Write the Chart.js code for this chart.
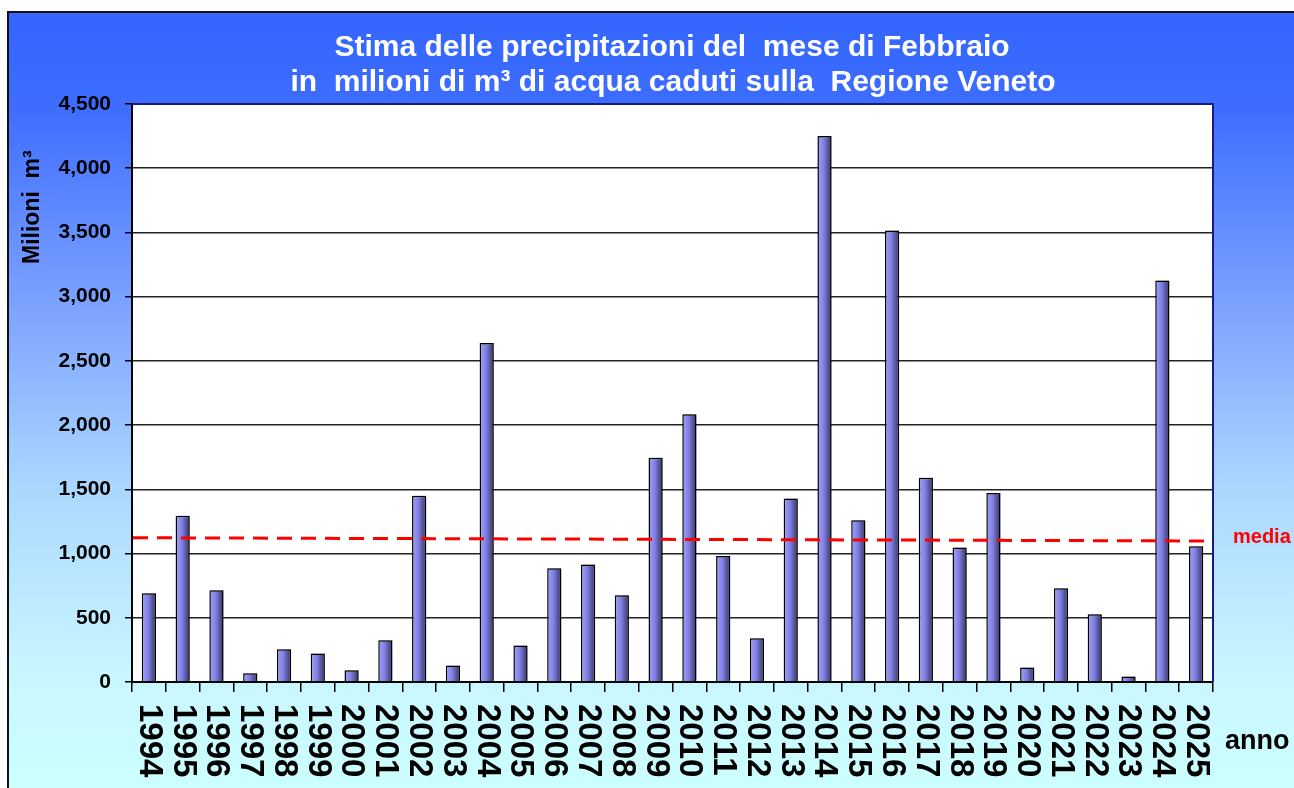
<!DOCTYPE html>
<html>
<head>
<meta charset="utf-8">
<script src="https://cdn.jsdelivr.net/npm/chart.js@4"></script>
<style>
  html, body { margin: 0; padding: 0; background: #fff; }
  #wrap { width: 1294px; height: 788px; }
</style>
</head>
<body>
<div id="wrap"><canvas id="rainChart"></canvas></div>
<script>
// DATA
const years = ["1994","1995","1996","1997","1998","1999","2000","2001","2002","2003",
  "2004","2005","2006","2007","2008","2009","2010","2011","2012","2013",
  "2014","2015","2016","2017","2018","2019","2020","2021","2022","2023","2024","2025"];
const rainValues = [690, 1295, 715, 68, 255, 222, 92, 326, 1450, 128,
  2640, 285, 885, 915, 675, 1745, 2085, 980, 340, 1428,
  4250, 1260, 3515, 1590, 1047, 1472, 112, 729, 527, 42, 3126, 1057];
// media: start and end value of the dashed line
const mediaValues = [1123, 1098];
const titleLines = ["Stima delle precipitazioni del  mese di Febbraio",
  "in  milioni di m\u00b3 di acqua caduti sulla  Regione Veneto"];
const yTitle = "Milioni  m\u00b3";
const xTitle = "anno";
const mediaLabel = "media";

const FONT = "'Liberation Sans', Arial, sans-serif";

// background, frame, plot area, texts
const backgroundPlugin = {
  id: "background",
  beforeDraw(chart) {
    const ctx = chart.ctx;
    const w = chart.width, h = chart.height;
    ctx.save();
    ctx.fillStyle = "#fff";
    ctx.fillRect(0, 0, w, h);
    const g = ctx.createLinearGradient(0, 11, 0, h);
    g.addColorStop(0, "#3366ff");
    g.addColorStop(0.12, "#3d6cff");
    g.addColorStop(0.38, "#7da3ff");
    g.addColorStop(0.62, "#acd8ff");
    g.addColorStop(0.85, "#c8f6ff");
    g.addColorStop(1, "#ccffff");
    ctx.fillStyle = g;
    ctx.fillRect(7, 11, w - 7, h - 11);
    ctx.strokeStyle = "#111";
    ctx.lineWidth = 2;
    ctx.beginPath();
    ctx.moveTo(8, h);
    ctx.lineTo(8, 12);
    ctx.lineTo(w, 12);
    ctx.stroke();

    const a = chart.chartArea;
    ctx.fillStyle = "#fff";
    ctx.fillRect(a.left, a.top, a.right - a.left, a.bottom - a.top);
    ctx.restore();
  },
  beforeDatasetDraw(chart, args) {
    const ctx = chart.ctx;
    ctx.save();
    ctx.shadowColor = "rgba(0,0,0,0.25)";
    ctx.shadowOffsetX = 2;
    ctx.shadowOffsetY = -1;
    ctx.shadowBlur = 1;
  },
  afterDatasetDraw(chart, args) {
    chart.ctx.restore();
  },
  afterDatasetsDraw(chart) {
    // media line, through the y scale
    const ctx = chart.ctx;
    const a = chart.chartArea;
    const y = chart.scales.y;
    ctx.save();
    ctx.strokeStyle = "#ff0000";
    ctx.lineWidth = 3;
    ctx.setLineDash([15, 9]);
    ctx.beginPath();
    ctx.moveTo(a.left + 1, y.getPixelForValue(mediaValues[0]));
    ctx.lineTo(a.right - 6, y.getPixelForValue(mediaValues[1]));
    ctx.stroke();
    ctx.restore();
  },
  afterDraw(chart) {
    const ctx = chart.ctx;
    const a = chart.chartArea;
    const x = chart.scales.x;
    ctx.save();

    // plot top and right border
    ctx.strokeStyle = "#1a1a80";
    ctx.lineWidth = 2;
    ctx.beginPath();
    ctx.moveTo(a.left, a.top);
    ctx.lineTo(a.right, a.top);
    ctx.lineTo(a.right, a.bottom);
    ctx.stroke();

    // title
    ctx.fillStyle = "#fff";
    ctx.font = "bold 30px " + FONT;
    ctx.textAlign = "center";
    ctx.textBaseline = "alphabetic";
    ctx.fillText(titleLines[0], 672, 56);
    ctx.fillText(titleLines[1], 673, 91);

    // y title
    ctx.fillStyle = "#000";
    ctx.font = "bold 23px " + FONT;
    ctx.translate(33, 264);
    ctx.rotate(-Math.PI / 2);
    ctx.textAlign = "left";
    ctx.textBaseline = "middle";
    ctx.fillText(yTitle, 0, 0);
    ctx.setTransform(1, 0, 0, 1, 0, 0);

    // x labels, rotated clockwise
    ctx.font = "bold 33px " + FONT;
    years.forEach((label, i) => {
      const px = x.getPixelForTick(i);
      ctx.save();
      ctx.translate(px, 704);
      ctx.rotate(Math.PI / 2);
      ctx.textAlign = "left";
      ctx.textBaseline = "middle";
      ctx.fillText(label, 0, 0);
      ctx.restore();
    });

    ctx.textAlign = "left";
    ctx.textBaseline = "middle";
    ctx.font = "bold 27px " + FONT;
    ctx.fillText(xTitle, 1225, 742);

    ctx.fillStyle = "#ff0000";
    ctx.font = "bold 20px " + FONT;
    ctx.fillText(mediaLabel, 1233, 537);
    ctx.restore();
  }
};

function barGradient(context) {
  const chart = context.chart;
  const scale = chart.scales.x;
  if (!chart.chartArea || !scale || context.dataIndex === undefined) return "#8888ee";
  const cx = scale.getPixelForValue(context.dataIndex);
  const g = chart.ctx.createLinearGradient(cx - 7, 0, cx + 7, 0);
  g.addColorStop(0, "#a0a0ff");
  g.addColorStop(0.45, "#8080e0");
  g.addColorStop(1, "#333366");
  return g;
}

const ctx = document.getElementById("rainChart").getContext("2d");

new Chart(ctx, {
  type: "bar",
  data: {
    labels: years,
    datasets: [
      {
        label: "Milioni m3",
        data: rainValues,
        backgroundColor: barGradient,
        borderColor: "#000",
        borderWidth: 1.5,
        categoryPercentage: 1,
        barPercentage: 0.42,
        grouped: false
      }
    ]
  },
  options: {
    responsive: true,
    maintainAspectRatio: false,
    animation: false,
    locale: "en-US",
    layout: { padding: { top: 104, right: 81, left: 0, bottom: 0 } },
    plugins: {
      legend: { display: false },
      title: { display: false },
      tooltip: { enabled: false }
    },
    scales: {
      x: {
        type: "category",
        offset: true,
        afterFit(scale) { scale.height = 106; },
        ticks: { display: false },
        grid: {
          offset: true,
          drawOnChartArea: false,
          drawTicks: true,
          tickLength: 10,
          color: "#000",
          lineWidth: 1.5
        },
        border: { color: "#000", width: 2 }
      },
      y: {
        min: 0,
        max: 4500,
        afterFit(scale) { scale.width = 132; },
        ticks: {
          stepSize: 500,
          color: "#000",
          padding: 14,
          font: { family: FONT, size: 21, weight: "bold" }
        },
        grid: {
          color: "#222",
          lineWidth: 1.5,
          tickLength: 7,
          tickColor: "#000"
        },
        border: { color: "#000", width: 2 }
      }
    }
  },
  plugins: [backgroundPlugin]
});
</script>
</body>
</html>
